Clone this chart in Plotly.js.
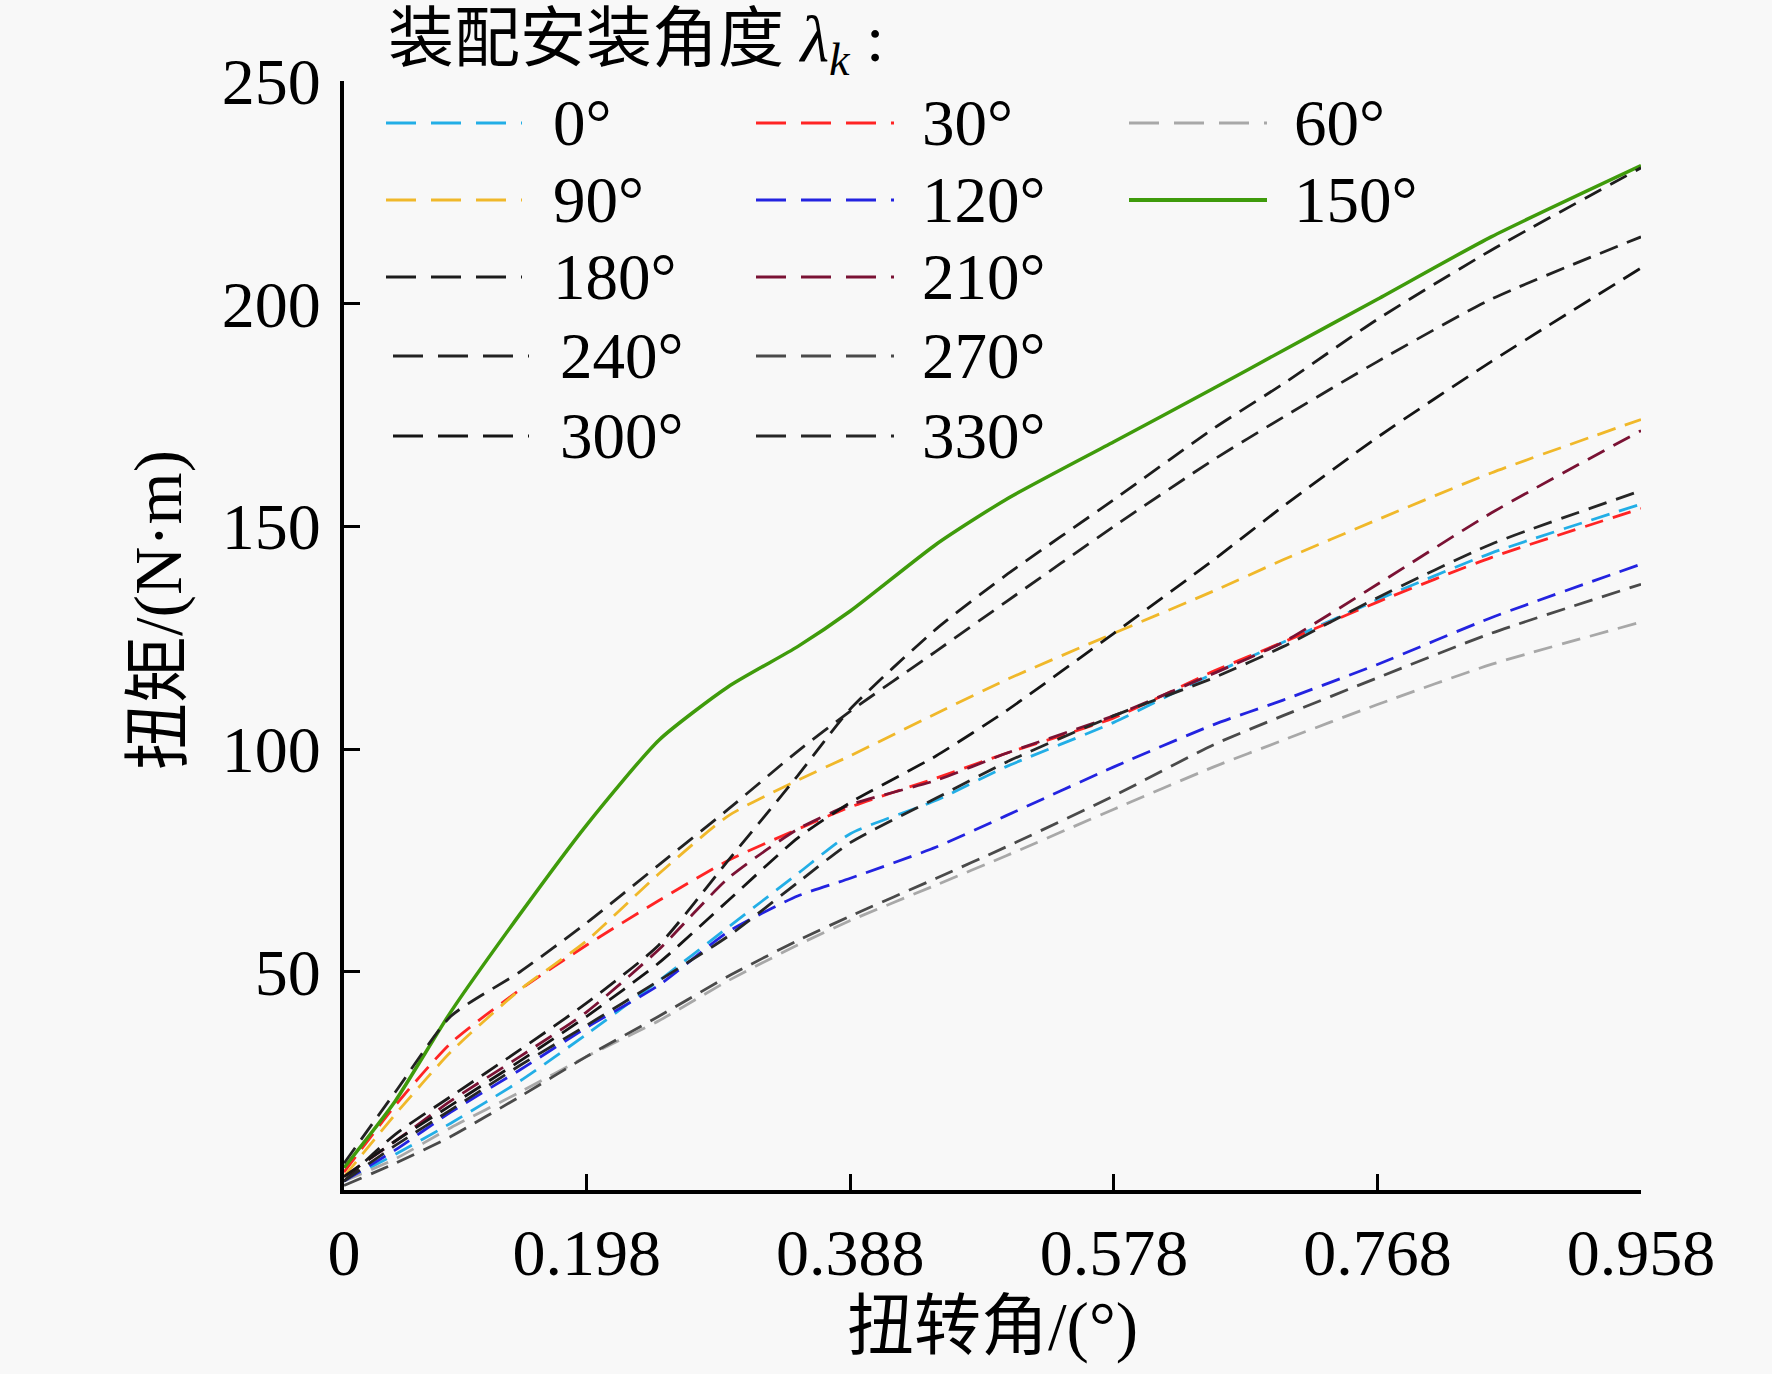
<!DOCTYPE html>
<html>
<head>
<meta charset="utf-8">
<script src="https://cdn.plot.ly/plotly-3.0.1.min.js"></script>
<style>
  html, body { margin: 0; padding: 0; background: #f8f8f8; }
  #chart { width: 1772px; height: 1374px; }
</style>
</head>
<body>
<div id="chart"></div>
<script>
// ---------- data ----------
const twistAngle = [0.023, 0.06, 0.1, 0.15, 0.198, 0.25, 0.3, 0.35, 0.388, 0.45, 0.5, 0.578, 0.65, 0.7, 0.768, 0.85, 0.958];

const seriesNames = ['0°', '30°', '60°', '90°', '120°', '150°', '180°', '210°', '240°', '270°', '300°', '330°'];

const torque0   = [3, 9, 16, 25.5, 36, 48, 60, 72, 81, 88.5, 96, 106, 117, 124, 133.5, 144, 155];
const torque30  = [5, 20, 34, 46, 56, 66, 75, 82, 87, 93.5, 99, 107, 117.5, 124, 133, 143, 154];
const torque60  = [3, 8, 15, 23, 31, 39, 48, 56, 61.5, 69.5, 76, 86.5, 96, 102, 110, 119, 128.5];
const torque90  = [4, 18, 32, 46, 57, 72, 85, 93, 98.5, 108, 115.5, 126, 135.5, 142.5, 151.5, 162, 174];
const torque120 = [3, 10, 18.5, 28, 37.5, 47, 59, 67, 71, 78, 85, 96, 105.5, 111, 119, 129.5, 141.5];
const torque150 = [6, 21, 41, 63, 83, 102, 114, 123, 131, 146, 156, 169, 181, 189.5, 201, 215, 231];
const torque180 = [3, 13.5, 22, 32.5, 43, 56, 75, 94, 109, 127, 139, 156, 172, 182, 196.5, 212, 230.5];
const torque210 = [4, 12, 21, 31, 41, 55, 71, 82, 87.5, 93, 99, 107.5, 117, 124, 137, 153, 171.5];
const torque240 = [7, 23, 40, 50, 61, 74, 86.5, 99.5, 108.5, 122, 133, 150, 165, 174.5, 187, 201, 215];
const torque270 = [2, 7, 13, 22, 31, 40, 49, 57, 62.5, 71, 78, 89.5, 101, 107.5, 116, 126, 137];
const torque300 = [4, 12, 20, 30, 40, 52, 66, 80, 88, 98.5, 108.5, 126, 142.5, 154.5, 170, 187, 208];
const torque330 = [3, 11, 19, 29, 38, 48, 58, 70, 79, 89, 97, 107.5, 116, 123, 134, 146, 158];

const xTickVals = [0.023, 0.198, 0.388, 0.578, 0.768, 0.958];
const xTickText = ['0', '0.198', '0.388', '0.578', '0.768', '0.958'];
const yTickVals = [50, 100, 150, 200, 250];

const legendTitle = '装配安装角度 <i>λ<sub>k</sub></i> :';
const xTitle = '扭转角/(°)';
const yTitle = '扭矩/(N·m)';

// ---------- styles ----------
const seriesValues = [torque0, torque30, torque60, torque90, torque120, torque150,
                      torque180, torque210, torque240, torque270, torque300, torque330];
const seriesColors = ['#22aee6', '#ff2424', '#a8a8a8', '#f0b82a', '#2323e0', '#3f9b0b',
                      '#1c1c1c', '#7a1234', '#222222', '#4a4a4a', '#151515', '#262626'];
const solidSeries = '150°';

const FONT = "'Liberation Serif', 'Noto Sans CJK SC', serif";
const W = 1772, H = 1374;
const M = { l: 344, r: 131, t: 81, b: 184 };
const PW = W - M.l - M.r, PH = H - M.t - M.b;
const px2x = px => (px - M.l) / PW;
const py2y = py => (H - M.b - py) / PH;

const traces = seriesNames.map((name, i) => ({
  type: 'scatter',
  mode: 'lines',
  name: name,
  x: twistAngle,
  y: seriesValues[i],
  line: {
    color: seriesColors[i],
    width: name === solidSeries ? 3.5 : 2.8,
    dash: name === solidSeries ? 'solid' : '19px,10px',
    shape: 'spline',
    smoothing: 0.6
  },
  showlegend: false
}));

// ---------- hand-laid legend (3 columns, long line samples) ----------
const rowsPx = [123, 200, 277, 356, 436];
const colLinePx = [[386, 522], [756, 894], [1129, 1267]];
const colTextPx = [551, 920, 1292];
const slots = [[0,0],[1,0],[2,0],[0,1],[1,1],[2,1],[0,2],[1,2],[0,3],[1,3],[0,4],[1,4]];

const shapes = [];
const annotations = [];
seriesNames.forEach((name, i) => {
  const [c, r] = slots[i];
  const shift = (c === 0 && r >= 3) ? 7 : 0;
  const y = py2y(rowsPx[r]);
  shapes.push({
    type: 'line', xref: 'paper', yref: 'paper',
    x0: px2x(colLinePx[c][0] + shift), x1: px2x(colLinePx[c][1] + shift),
    y0: y, y1: y,
    line: { color: seriesColors[i], width: name === solidSeries ? 4 : 3.2,
            dash: name === solidSeries ? 'solid' : '30px,15px' }
  });
  annotations.push({
    xref: 'paper', yref: 'paper',
    x: px2x(colTextPx[c] + shift), y: y,
    xanchor: 'left', yanchor: 'middle',
    text: name, showarrow: false,
    font: { family: FONT, size: 65, color: '#000' }
  });
});
annotations.push({
  xref: 'paper', yref: 'paper',
  x: px2x(386), y: py2y(43),
  xanchor: 'left', yanchor: 'middle',
  text: legendTitle, showarrow: false,
  font: { family: FONT, size: 66, color: '#000' }
});
annotations.push({
  xref: 'paper', yref: 'paper',
  x: px2x(158), y: py2y(610),
  xanchor: 'center', yanchor: 'middle',
  textangle: -90,
  text: yTitle, showarrow: false,
  font: { family: FONT, size: 67, color: '#000' }
});

const layout = {
  width: W, height: H,
  margin: { l: M.l, r: M.r, t: M.t, b: M.b, pad: 0 },
  paper_bgcolor: '#f8f8f8',
  plot_bgcolor: '#f8f8f8',
  font: { family: FONT, size: 66, color: '#000' },
  showlegend: false,
  xaxis: {
    range: [0.023, 0.958],
    tickmode: 'array', tickvals: xTickVals, ticktext: xTickText,
    ticks: 'inside', ticklen: 16, tickwidth: 3, tickcolor: '#000',
    showline: true, linewidth: 4, linecolor: '#000',
    showgrid: false, zeroline: false,
    ticklabelstandoff: 2,
    tickfont: { family: FONT, size: 66, color: '#000' },
    title: { text: xTitle, font: { family: FONT, size: 67, color: '#000' }, standoff: 14 }
  },
  yaxis: {
    range: [1, 250],
    tickmode: 'array', tickvals: yTickVals,
    ticks: 'inside', ticklen: 16, tickwidth: 3, tickcolor: '#000',
    showline: true, linewidth: 4, linecolor: '#000',
    showgrid: false, zeroline: false,
    ticklabelstandoff: 6,
    tickfont: { family: FONT, size: 66, color: '#000' }
  },
  shapes: shapes,
  annotations: annotations
};

Plotly.newPlot('chart', traces, layout, { staticPlot: true, displayModeBar: false });
</script>
</body>
</html>
